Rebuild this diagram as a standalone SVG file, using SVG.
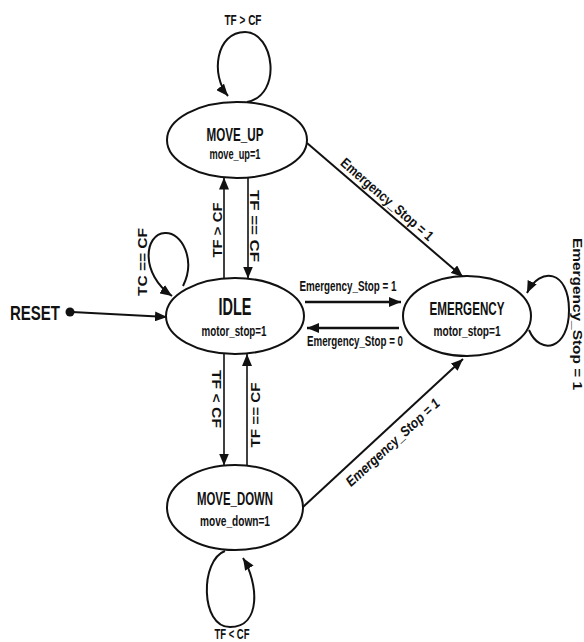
<svg xmlns="http://www.w3.org/2000/svg" width="584" height="642" viewBox="0 0 584 642">
<style>
text{font-family:"Liberation Sans",Arial,sans-serif;font-weight:bold;fill:#111}
.st{fill:#fff;stroke:#111;stroke-width:2}
.ln{fill:none;stroke:#111;stroke-width:1.6}
.tk{fill:none;stroke:#111;stroke-width:2.6}
.md{fill:none;stroke:#111;stroke-width:2}
</style>
<defs>
<marker id="ah" markerUnits="userSpaceOnUse" markerWidth="13" markerHeight="10" refX="12" refY="5" orient="auto">
<path d="M0,0 L12,5 L0,10 z" fill="#111"/>
</marker>
</defs>
<g id="connectors">
<circle cx="70" cy="312" r="4.5" fill="#111"/>
<line class="md" x1="72" y1="312" x2="167" y2="317" marker-end="url(#ah)"/>
<path class="md" d="M247,102 C283,95 274,32 245,32 C216,32 210,75 228,96" marker-end="url(#ah)"/>
<path class="md" d="M183,286 C196,260 182,232 165,233 C144,234 140,274 172,296" marker-end="url(#ah)"/>
<path class="md" d="M225,551 C200,560 200,627 230,627 C262,627 258,582 243,558" marker-end="url(#ah)"/>
<path class="md" d="M529,330 C540,356 569,350 569,310 C569,270 540,266 527,293" marker-end="url(#ah)"/>
<line class="ln" x1="248" y1="177" x2="248" y2="278.5" marker-end="url(#ah)"/>
<line class="ln" x1="224" y1="278.5" x2="224" y2="177.5" marker-end="url(#ah)"/>
<line class="ln" x1="224" y1="354" x2="224" y2="465.5" marker-end="url(#ah)"/>
<line class="ln" x1="247" y1="465" x2="247" y2="354" marker-end="url(#ah)"/>
<line class="tk" x1="305" y1="302" x2="401" y2="302" marker-end="url(#ah)"/>
<line class="tk" x1="399" y1="328" x2="307" y2="328" marker-end="url(#ah)"/>
<line class="md" x1="307" y1="143" x2="463" y2="277" marker-end="url(#ah)"/>
<line class="md" x1="303" y1="507" x2="463" y2="359" marker-end="url(#ah)"/>
<text x="243" y="25" font-size="14" text-anchor="middle" textLength="37" lengthAdjust="spacingAndGlyphs">TF &gt; CF</text>
<text transform="translate(222,230) rotate(-90)" font-size="12" text-anchor="middle" textLength="55" lengthAdjust="spacingAndGlyphs">TF &gt; CF</text>
<text transform="translate(250,226) rotate(90)" font-size="12" text-anchor="middle" textLength="72" lengthAdjust="spacingAndGlyphs">TF == CF</text>
<text transform="translate(147,262) rotate(-90)" font-size="12" text-anchor="middle" textLength="68" lengthAdjust="spacingAndGlyphs">TC == CF</text>
<text transform="translate(212,399) rotate(90)" font-size="12" text-anchor="middle" textLength="58" lengthAdjust="spacingAndGlyphs">TF &lt; CF</text>
<text transform="translate(260,415) rotate(-90)" font-size="12" text-anchor="middle" textLength="65" lengthAdjust="spacingAndGlyphs">TF == CF</text>
<text x="232" y="639" font-size="14" text-anchor="middle" textLength="35" lengthAdjust="spacingAndGlyphs">TF &lt; CF</text>
<text x="348" y="291" font-size="14" text-anchor="middle" textLength="97" lengthAdjust="spacingAndGlyphs">Emergency_Stop = 1</text>
<text x="355" y="346" font-size="14" text-anchor="middle" textLength="96" lengthAdjust="spacingAndGlyphs">Emergency_Stop = 0</text>
<text transform="translate(384,203) rotate(41)" font-size="14" text-anchor="middle" textLength="118" lengthAdjust="spacingAndGlyphs">Emergency_Stop = 1</text>
<text transform="translate(396,446) rotate(-42.6)" font-size="14" font-style="italic" text-anchor="middle" textLength="122" lengthAdjust="spacingAndGlyphs">Emergency_Stop = 1</text>
<text transform="translate(573,238) rotate(90)" font-size="12" textLength="152" lengthAdjust="spacingAndGlyphs">Emergency_Stop = 1</text>
</g>
<g id="reset">
<text x="10" y="320" font-size="21" textLength="50" lengthAdjust="spacingAndGlyphs">RESET</text>
</g>
<g id="move_up">
<ellipse class="st" cx="237" cy="140" rx="70" ry="38"/>
<text x="235" y="141" font-size="18" text-anchor="middle" textLength="57" lengthAdjust="spacingAndGlyphs">MOVE_UP</text>
<text x="235" y="159" font-size="14" text-anchor="middle" textLength="51" lengthAdjust="spacingAndGlyphs">move_up=1</text>
</g>
<g id="idle">
<ellipse class="st" cx="235" cy="316" rx="69" ry="38"/>
<text x="235" y="315" font-size="23" text-anchor="middle" textLength="33" lengthAdjust="spacingAndGlyphs">IDLE</text>
<text x="234" y="336" font-size="15" text-anchor="middle" textLength="65" lengthAdjust="spacingAndGlyphs">motor_stop=1</text>
</g>
<g id="emergency">
<ellipse class="st" cx="467" cy="316" rx="64" ry="40"/>
<text x="467" y="315" font-size="18" text-anchor="middle" textLength="75" lengthAdjust="spacingAndGlyphs">EMERGENCY</text>
<text x="467" y="336" font-size="15" text-anchor="middle" textLength="67" lengthAdjust="spacingAndGlyphs">motor_stop=1</text>
</g>
<g id="move_down">
<ellipse class="st" cx="235" cy="507.5" rx="68" ry="42.5"/>
<text x="235" y="505" font-size="18" text-anchor="middle" textLength="76" lengthAdjust="spacingAndGlyphs">MOVE_DOWN</text>
<text x="235" y="526" font-size="15" text-anchor="middle" textLength="70" lengthAdjust="spacingAndGlyphs">move_down=1</text>
</g>
</svg>
